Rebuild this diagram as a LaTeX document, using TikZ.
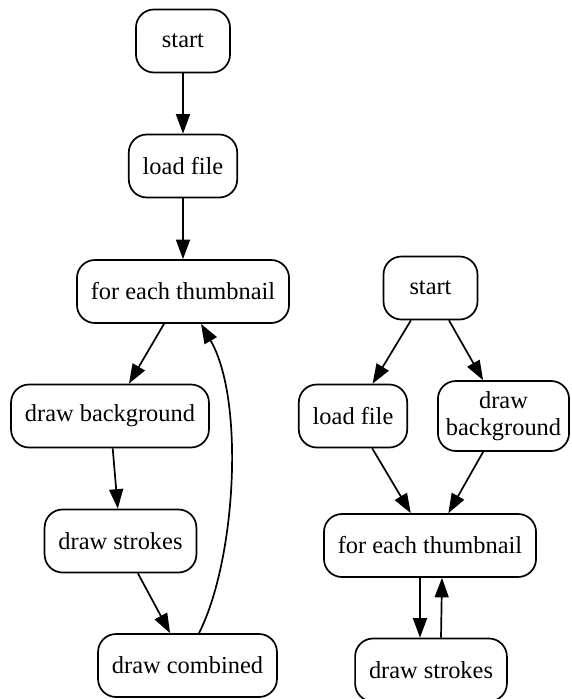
\documentclass[tikz,border=0pt]{standalone}
\usepackage{fontspec}
\setmainfont{Liberation Serif}
\usetikzlibrary{arrows.meta}
\begin{document}
\begin{tikzpicture}[x=1pt,y=1pt,
  box/.style={draw, line width=1.7pt, rounded corners=18pt,
    minimum width=94pt, minimum height=63pt, inner xsep=13.9pt, inner ysep=4pt,
    font=\fontsize{24.4}{27}\selectfont},
  edge/.style={line width=1.7pt, -{Triangle[length=19.5pt,width=14pt]}}]
\useasboundingbox (0,0) rectangle (571,-699);

% first flow: sequential drawing
\node[box] (s1) at (183,-41) {start};
\node[box] (l1) at (183,-166) {load file};
\node[box] (f1) at (183,-291.5) {for each thumbnail};
\node[box] (b1) at (110,-416) {draw background};
\node[box] (d1) at (120.5,-541) {draw strokes};
\node[box] (c1) at (187.5,-665.5) {draw combined};

\draw[edge] (s1) -- (l1);
\draw[edge] (l1) -- (f1);
\draw[edge] (f1) -- (b1);
\draw[edge] (b1) -- (d1);
\draw[edge] (d1) -- (c1);
\draw[edge] ([xshift=11.5pt]c1.north) .. controls (236,-560) and (245,-400) .. ([xshift=18pt]f1.south);

% second flow: background drawn once, strokes per thumbnail
\node[box] (s2) at (430.5,-288) {start};
\node[box] (l2) at (353,-416) {load file};
\node[box, align=center, minimum height=70pt, inner xsep=8pt] (b2) at (503.5,-416) {draw\\background};
\node[box] (f2) at (430,-545.5) {for each thumbnail};
\node[box] (d2) at (431,-670) {draw strokes};

\draw[edge] (s2) -- (l2);
\draw[edge] (s2) -- (b2);
\draw[edge] (l2) -- (f2);
\draw[edge] (b2) -- (f2);
\draw[edge] ([xshift=-10pt]f2.south) -- ([xshift=-11pt]d2.north);
\draw[edge] ([xshift=10pt]d2.north) -- ([xshift=12pt]f2.south);
\end{tikzpicture}
\end{document}
